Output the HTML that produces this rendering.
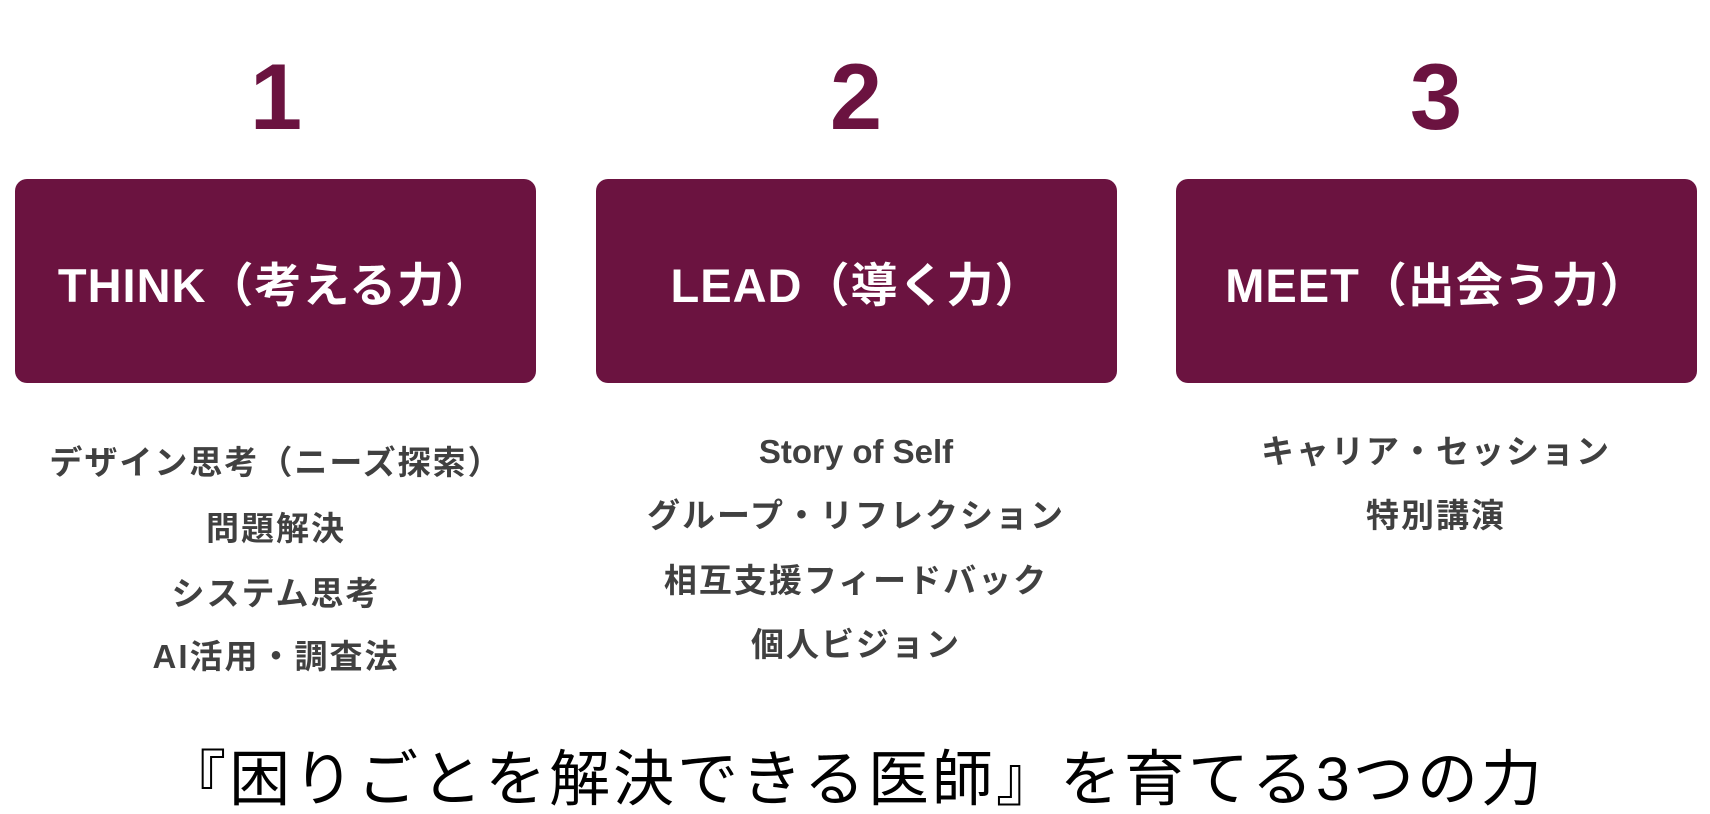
<!DOCTYPE html>
<html><head><meta charset="utf-8">
<style>
body{margin:0;width:1710px;height:810px;background:#fff;position:relative;overflow:hidden;font-family:"Liberation Sans","Noto Sans CJK JP",sans-serif;}
.num{position:absolute;top:42px;width:300px;text-align:center;font-size:94px;font-weight:bold;color:#6b1340;line-height:110px;}
.box{position:absolute;top:179px;height:204px;width:521px;background:#6b1340;border-radius:12px;color:#fff;font-weight:bold;font-size:47px;letter-spacing:1px;display:flex;align-items:center;justify-content:center;}
.it{position:absolute;width:560px;text-align:center;font-size:33px;font-weight:bold;color:#404040;letter-spacing:2px;line-height:40px;}
.ttl{position:absolute;left:0;width:1710px;top:744px;text-align:center;font-size:61px;letter-spacing:3px;line-height:70px;color:#000;}
</style></head><body>
<div class="num" style="left:126px">1</div>
<div class="num" style="left:706px">2</div>
<div class="num" style="left:1286px">3</div>
<div class="box" style="left:15px">THINK（考える力）</div>
<div class="box" style="left:596px">LEAD（導く力）</div>
<div class="box" style="left:1176px">MEET（出会う力）</div>
<div class="it" style="left:-4px;top:443px">デザイン思考（ニーズ探索）</div>
<div class="it" style="left:-4px;top:509px">問題解決</div>
<div class="it" style="left:-4px;top:574px">システム思考</div>
<div class="it" style="left:-4px;top:637px">AI活用・調査法</div>
<div class="it" style="left:576px;top:432px;letter-spacing:0">Story of Self</div>
<div class="it" style="left:576px;top:496px">グループ・リフレクション</div>
<div class="it" style="left:576px;top:561px">相互支援フィードバック</div>
<div class="it" style="left:576px;top:625px">個人ビジョン</div>
<div class="it" style="left:1156px;top:432px">キャリア・セッション</div>
<div class="it" style="left:1156px;top:496px">特別講演</div>
<div class="ttl">『困りごとを解決できる医師』を育てる3つの力</div>
</body></html>
